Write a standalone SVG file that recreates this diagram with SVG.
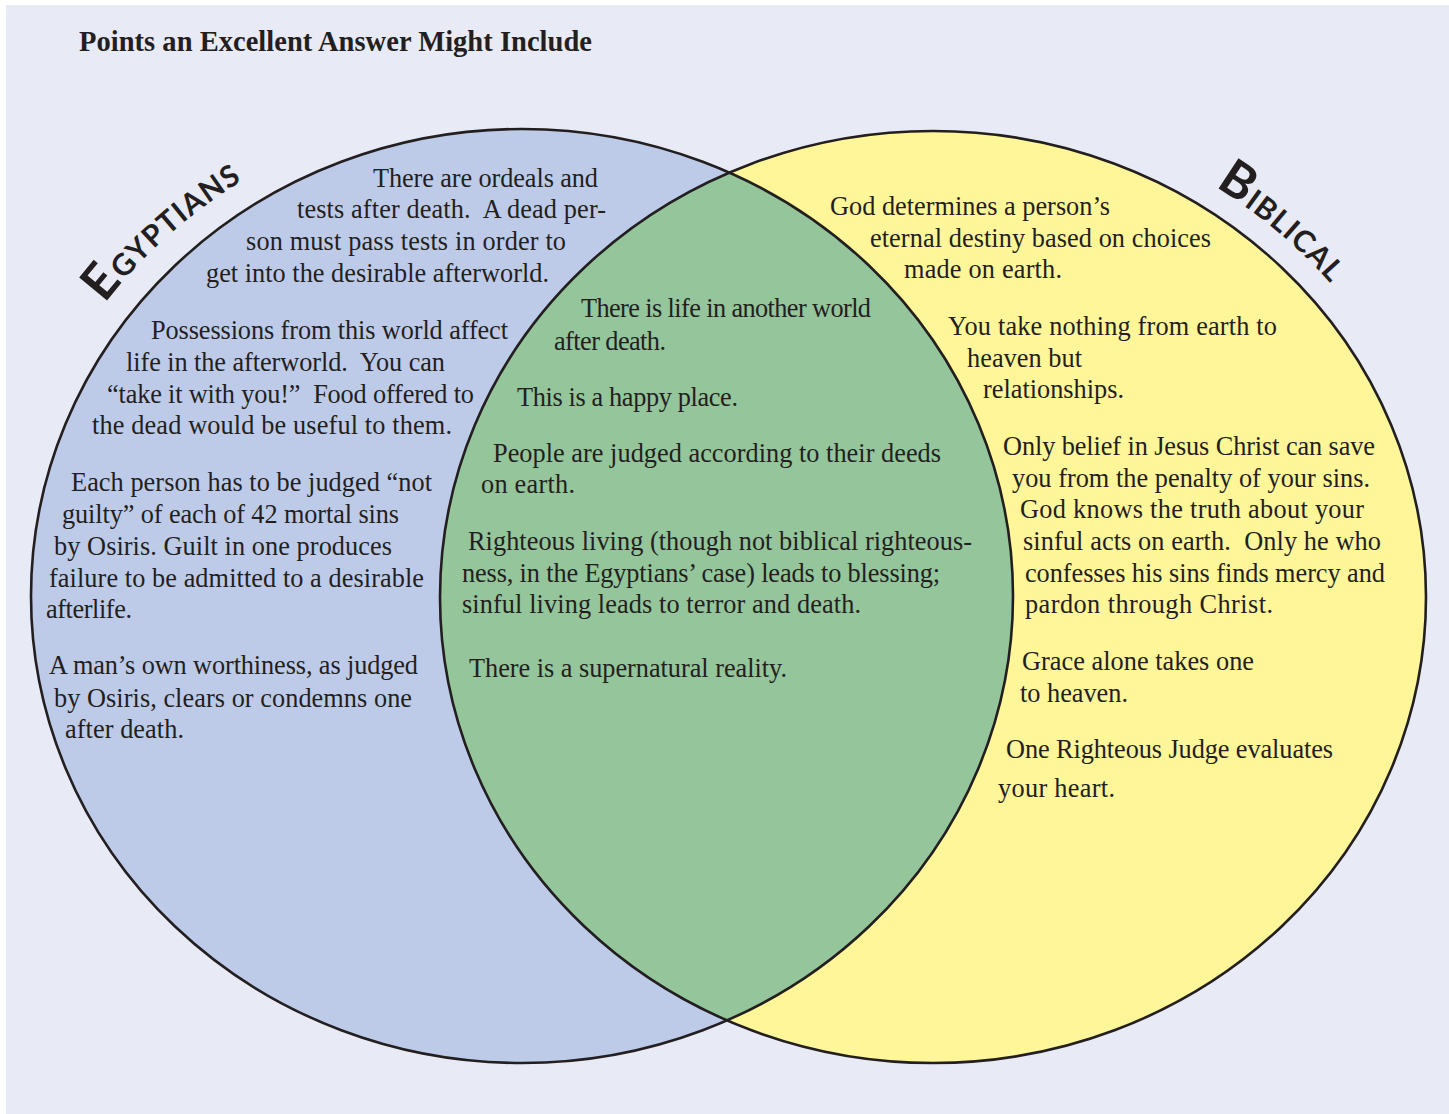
<svg xmlns="http://www.w3.org/2000/svg" xmlns:xlink="http://www.w3.org/1999/xlink" width="1449" height="1114" viewBox="0 0 1449 1114">
  <style>
    .bg { fill: #e8eaf5; }
    .outline { fill: none; stroke: #231f20; stroke-width: 2.6; }
    .t { font-family: "Liberation Serif", "Times New Roman", serif; font-size: 26.3px; fill: #231f20; white-space: pre; }
    .title { font-family: "Liberation Serif", "Times New Roman", serif; font-size: 28.5px; font-weight: bold; fill: #231f20; }
    .lbl { font-family: Lato, "DejaVu Sans", sans-serif; font-weight: bold; fill: #231f20; letter-spacing: 1.2px; }
    .big { font-size: 50px; }
    .sc { font-size: 30px; }
  </style>
  <defs>
    <clipPath id="clipLeft">
      <ellipse cx="522" cy="596" rx="491" ry="467"/>
    </clipPath>
    <path id="arcEgy" d="M 104.7 303.5 A 518.5 493 0 0 1 432 110.5"/>
    <path id="arcBib" d="M 1215 186.6 A 517.6 489.3 0 0 1 1442.7 512"/>
  </defs>

  <rect class="bg" x="6" y="5" width="1443" height="1109"/>

  <g id="title">
    <text class="title" x="79" y="51" textLength="513">Points an Excellent Answer Might Include</text>
  </g>

  <g id="set-egyptians">
    <ellipse cx="522" cy="596" rx="491" ry="467" fill="#bdcbe8"/>
  </g>
  <g id="set-biblical">
    <ellipse cx="933" cy="597" rx="493" ry="466" fill="#fff599"/>
  </g>
  <g id="set-overlap">
    <ellipse cx="933" cy="597" rx="493" ry="466" fill="#94c59b" clip-path="url(#clipLeft)"/>
  </g>
  <g id="outlines">
    <ellipse class="outline" cx="522" cy="596" rx="491" ry="467"/>
    <ellipse class="outline" cx="933" cy="597" rx="493" ry="466"/>
  </g>
  <g id="connectors"/>

  <g id="label-egyptians">
    <text class="lbl"><textPath xlink:href="#arcEgy" href="#arcEgy"><tspan class="big">E</tspan><tspan class="sc">GYPTIANS</tspan></textPath></text>
  </g>
  <g id="label-biblical">
    <text class="lbl"><textPath xlink:href="#arcBib" href="#arcBib"><tspan class="big">B</tspan><tspan class="sc">IBLICAL</tspan></textPath></text>
  </g>

  <g id="egyptians-points">
    <text class="t" x="373" y="187" textLength="225">There are ordeals and</text>
    <text class="t" x="297" y="218" textLength="309">tests after death.  A dead per-</text>
    <text class="t" x="246" y="250" textLength="320">son must pass tests in order to</text>
    <text class="t" x="206" y="282" textLength="343">get into the desirable afterworld.</text>

    <text class="t" x="151" y="339" textLength="357">Possessions from this world affect</text>
    <text class="t" x="126" y="371" textLength="319">life in the afterworld.  You can</text>
    <text class="t" x="107" y="403" textLength="367">“take it with you!”  Food offered to</text>
    <text class="t" x="92" y="434" textLength="360">the dead would be useful to them.</text>

    <text class="t" x="71" y="491" textLength="361">Each person has to be judged “not</text>
    <text class="t" x="62" y="523" textLength="337">guilty” of each of 42 mortal sins</text>
    <text class="t" x="54" y="555" textLength="338">by Osiris. Guilt in one produces</text>
    <text class="t" x="49" y="587" textLength="375">failure to be admitted to a desirable</text>
    <text class="t" x="46" y="618" textLength="86">afterlife.</text>

    <text class="t" x="49" y="674" textLength="369">A man’s own worthiness, as judged</text>
    <text class="t" x="54" y="707" textLength="358">by Osiris, clears or condemns one</text>
    <text class="t" x="65" y="738" textLength="119">after death.</text>
  </g>

  <g id="shared-points">
    <text class="t" x="581" y="317" textLength="290">There is life in another world</text>
    <text class="t" x="554" y="350" textLength="112">after death.</text>
    <text class="t" x="517" y="406" textLength="221">This is a happy place.</text>
    <text class="t" x="493" y="462" textLength="448">People are judged according to their deeds</text>
    <text class="t" x="481" y="493" textLength="94">on earth.</text>
    <text class="t" x="468" y="550" textLength="504">Righteous living (though not biblical righteous-</text>
    <text class="t" x="462" y="582" textLength="478">ness, in the Egyptians’ case) leads to blessing;</text>
    <text class="t" x="462" y="613" textLength="399">sinful living leads to terror and death.</text>
    <text class="t" x="469" y="677" textLength="318">There is a supernatural reality.</text>
  </g>

  <g id="biblical-points">
    <text class="t" x="830" y="215" textLength="280">God determines a person’s</text>
    <text class="t" x="870" y="247" textLength="341">eternal destiny based on choices</text>
    <text class="t" x="904" y="278" textLength="158">made on earth.</text>

    <text class="t" x="948" y="335" textLength="329">You take nothing from earth to</text>
    <text class="t" x="967" y="367" textLength="115">heaven but</text>
    <text class="t" x="983" y="398" textLength="141">relationships.</text>

    <text class="t" x="1003" y="455" textLength="372">Only belief in Jesus Christ can save</text>
    <text class="t" x="1012" y="487" textLength="358">you from the penalty of your sins.</text>
    <text class="t" x="1020" y="518" textLength="344">God knows the truth about your</text>
    <text class="t" x="1023" y="550" textLength="358">sinful acts on earth.  Only he who</text>
    <text class="t" x="1025" y="582" textLength="360">confesses his sins finds mercy and</text>
    <text class="t" x="1025" y="613" textLength="248">pardon through Christ.</text>

    <text class="t" x="1022" y="670" textLength="232">Grace alone takes one</text>
    <text class="t" x="1020" y="702" textLength="108">to heaven.</text>

    <text class="t" x="1006" y="758" textLength="327">One Righteous Judge evaluates</text>
    <text class="t" x="998" y="797" textLength="117">your heart.</text>
  </g>
</svg>
